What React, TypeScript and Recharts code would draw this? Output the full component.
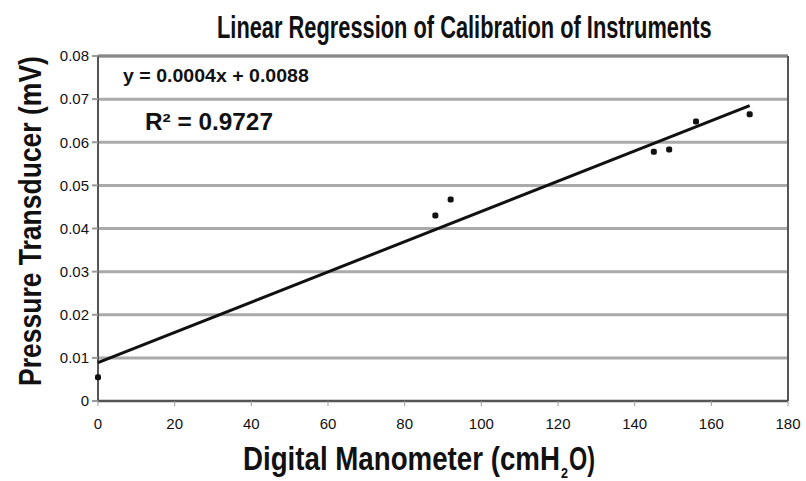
import React, { useLayoutEffect, useRef, useState } from "react";
import {
  ComposedChart,
  Scatter,
  XAxis,
  YAxis,
  CartesianGrid,
  ReferenceLine,
} from "recharts";

const manometerReadings = [0, 88, 92, 145, 149, 156, 170];
const transducerReadings = [0.0055, 0.043, 0.0467, 0.0578, 0.0583, 0.0648, 0.0665];
const fitX = [0, 170];
const fitY = [0.0089, 0.0685];
const xTicks = [0, 20, 40, 60, 80, 100, 120, 140, 160, 180];
const yTicks = [0, 0.01, 0.02, 0.03, 0.04, 0.05, 0.06, 0.07, 0.08];

const points = manometerReadings.map((x, i) => ({ x, y: transducerReadings[i] }));
const fitLine = fitX.map((x, i) => ({ x, y: fitY[i] }));

const narrow = "'Liberation Sans Narrow', 'Arial Narrow', 'Liberation Sans', sans-serif";
const regular = "'Liberation Sans', Arial, sans-serif";

const Dot = (props: any) => {
  const { cx, cy } = props;
  if (cx == null || cy == null) return null;
  return <rect x={cx - 3} y={cy - 3} width={6} height={6} rx={2} fill="#111" />;
};

const NoShape = () => null;

type FitProps = {
  x: number;
  y: number;
  width: number;
  size: number;
  rotate?: number;
  children: string;
};

const FitText = ({ x, y, width, size, rotate = 0, children }: FitProps) => {
  const ref = useRef<SVGTextElement>(null);
  const [scale, setScale] = useState(1);
  useLayoutEffect(() => {
    if (ref.current) {
      const w = ref.current.getComputedTextLength();
      if (w > 0) setScale(width / w);
    }
  }, [width, children]);
  return (
    <text
      ref={ref}
      transform={`translate(${x},${y}) rotate(${rotate}) scale(${scale},1)`}
      fontFamily={narrow}
      fontWeight="bold"
      fontSize={size}
      fill="#111"
    >
      {children}
    </text>
  );
};

export default function App() {
  return (
    <div style={{ position: "absolute", left: 0, top: 0, width: 806, height: 481, background: "#fff" }}>
      <ComposedChart
        width={806}
        height={481}
        margin={{ top: 56, right: 18, bottom: 0, left: 0 }}
      >
        <CartesianGrid vertical={false} stroke="#aaa" strokeWidth={3} />
        <XAxis
          type="number"
          dataKey="x"
          domain={[0, 180]}
          ticks={xTicks}
          interval={0}
          height={80}
          axisLine={{ stroke: "#555", strokeWidth: 2 }}
          tickLine={{ stroke: "#999", strokeWidth: 1 }}
          tickSize={5}
          tick={{ fill: "#111", fontSize: 15, fontFamily: regular }}
          tickMargin={12}
        />
        <YAxis
          type="number"
          dataKey="y"
          domain={[0, 0.08]}
          ticks={yTicks}
          interval={0}
          width={98}
          axisLine={{ stroke: "#555", strokeWidth: 2 }}
          tickLine={{ stroke: "#999", strokeWidth: 2 }}
          tickSize={6}
          tick={{ fill: "#111", fontSize: 15, fontFamily: regular }}
          tickMargin={3}
        />
        <ReferenceLine y={0.08} stroke="#888" strokeWidth={3} />
        <ReferenceLine x={180} stroke="#555" strokeWidth={2} />
        <Scatter
          data={fitLine}
          line={{ stroke: "#111", strokeWidth: 3 }}
          shape={NoShape}
          isAnimationActive={false}
        />
        <Scatter data={points} shape={Dot} isAnimationActive={false} />
      </ComposedChart>
      <svg
        width={806}
        height={481}
        style={{ position: "absolute", left: 0, top: 0, pointerEvents: "none" }}
      >
        <FitText x={217} y={38} width={495} size={31}>
          Linear Regression of Calibration of Instruments
        </FitText>
        <FitText x={41} y={386} width={330} size={32} rotate={-90}>
          Pressure Transducer (mV)
        </FitText>
        <FitText x={243} y={470} width={317} size={34}>
          Digital Manometer (cmH
        </FitText>
        <FitText x={561} y={478} width={7} size={15}>
          2
        </FitText>
        <FitText x={569} y={470} width={26} size={34}>
          O)
        </FitText>
        <FitText x={123} y={82} width={186} size={19}>
          y = 0.0004x + 0.0088
        </FitText>
        <FitText x={145} y={130} width={128} size={23}>
          R² = 0.9727
        </FitText>
      </svg>
    </div>
  );
}
